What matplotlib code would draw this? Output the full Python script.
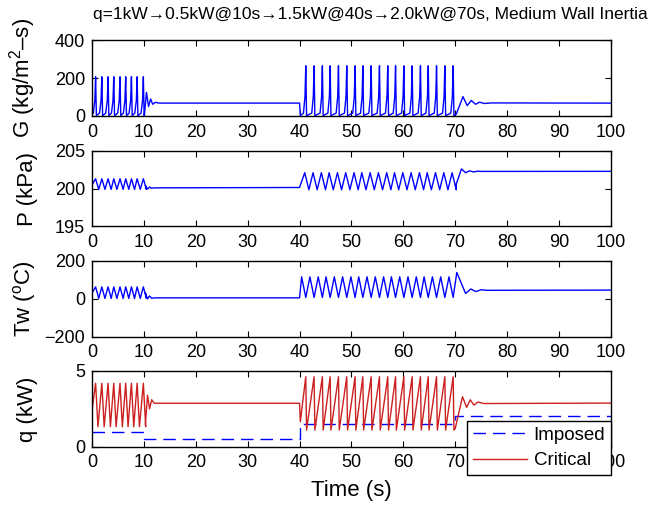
import numpy as np
import matplotlib
matplotlib.use("Agg")
import matplotlib.pyplot as plt

plt.rcParams['font.family'] = ['Liberation Sans', 'DejaVu Sans']
plt.rcParams['font.size'] = 13
plt.rcParams['mathtext.fontset'] = 'custom'
plt.rcParams['mathtext.rm'] = 'Liberation Sans'

# ---- data ----
# oscillation peak times (s)
burst1_t = [0.7, 1.9, 3.1, 4.2, 5.4, 6.5, 7.6, 8.7, 9.9]
burst2_t = [41.2, 42.8, 44.4, 45.9, 47.5, 49.1, 50.7, 52.2, 53.8, 55.4,
            57.0, 58.5, 60.1, 61.7, 63.3, 64.8, 66.4, 68.0, 69.6]

# G (kg/m2-s)
G_peak = [207, 265]
G_low = [15, 15]
G_trough = [2, 2]
G_start_t, G_start = [0.0, 0.3], [40, 20]
G_after10_t = [10.1, 10.5, 10.9, 11.3, 11.7, 12.2, 13.0, 40.0, 40.15]
G_after10 = [5, 125, 50, 90, 62, 72, 68, 68, 2]
G_after70_t = [70.2, 71.5, 72.3, 73.1, 73.9, 74.7, 75.6, 77.0, 100.0]
G_after70 = [10, 102, 55, 82, 62, 73, 66, 69, 68]

# P (kPa)
P_peak = [201.3, 202.1]
P_trough = [199.9, 199.85]
P_start_t, P_start = [0.0], [200.5]
P_after10_t = [10.3, 10.7, 11.1, 11.5, 12.0, 40.0]
P_after10 = [200.4, 199.95, 200.2, 200.05, 200.1, 200.15]
P_after70_t = [70.2, 71.2, 72.0, 72.8, 73.5, 74.3, 75.0, 100.0]
P_after70 = [200.6, 202.6, 202.1, 202.35, 202.2, 202.3, 202.27, 202.28]

# Tw (degC)
T_peak = [63, 116]
T_trough = [2, 7]
T_start_t, T_start = [0.0], [30]
T_after10_t = [10.3, 10.7, 11.1, 11.5, 12.0, 40.0]
T_after10 = [30, 0, 15, 3, 5, 5]
T_after70_t = [70.3, 72.0, 73.0, 74.0, 75.0, 76.0, 100.0]
T_after70 = [139, 28, 52, 38, 48, 45, 46]

# q (kW)
qc_peak = [4.19, 4.62]
qc_trough = [1.32, 1.10]
qc_start_t, qc_start = [0.0], [2.4]
qc_after10_t = [10.3, 10.7, 11.1, 11.5, 12.0, 40.0, 40.15]
qc_after10 = [1.5, 3.4, 2.5, 3.1, 2.87, 2.87, 1.65]
qc_after70_t = [70.0, 71.4, 72.2, 72.9, 73.6, 74.4, 75.5, 100.0]
qc_after70 = [1.2, 3.3, 2.6, 3.1, 2.75, 2.95, 2.85, 2.88]
q_imposed_t = [0, 10, 40, 70, 100]
q_imposed = [1.0, 0.5, 1.5, 2.0, 2.0]


def spikes(times, peak, low, trough):
    t, v = [], []
    for tk in times:
        t += [tk - 0.45, tk - 0.15, tk, tk + 0.15]
        v += [low, low + 0.35 * (peak - low), peak, trough]
    return t, v


def zigzag(times, peak, trough):
    t, v = [], []
    half = (times[1] - times[0]) / 2
    for tk in times:
        t += [tk, tk + half]
        v += [peak, trough]
    return t, v


def sawtooth(times, peak, trough, fall):
    t, v = [], []
    for tk in times:
        t += [tk, tk + fall]
        v += [peak, trough]
    return t, v


def series(start_t, start, b1, after10_t, after10, b2, after70_t, after70):
    t = list(start_t) + b1[0] + list(after10_t) + b2[0] + list(after70_t)
    v = list(start) + b1[1] + list(after10) + b2[1] + list(after70)
    return t, v


Gt, Gv = series(G_start_t, G_start,
                spikes(burst1_t, G_peak[0], G_low[0], G_trough[0]),
                G_after10_t, G_after10,
                spikes(burst2_t, G_peak[1], G_low[1], G_trough[1]),
                G_after70_t, G_after70)
Pt, Pv = series(P_start_t, P_start,
                zigzag(burst1_t, P_peak[0], P_trough[0]),
                P_after10_t, P_after10,
                zigzag([t - 0.2 for t in burst2_t], P_peak[1], P_trough[1]),
                P_after70_t, P_after70)
Tt, Tv = series(T_start_t, T_start,
                zigzag(burst1_t, T_peak[0], T_trough[0]),
                T_after10_t, T_after10,
                zigzag([t - 0.8 for t in burst2_t], T_peak[1], T_trough[1]),
                T_after70_t, T_after70)
qt, qv = series(qc_start_t, qc_start,
                sawtooth(burst1_t, qc_peak[0], qc_trough[0], 0.45),
                qc_after10_t, qc_after10,
                sawtooth(burst2_t, qc_peak[1], qc_trough[1], 0.15),
                qc_after70_t, qc_after70)

fig = plt.figure(figsize=(6.67, 5.05), dpi=100)
left, width, height = 0.1379, 0.778, 0.15
bottoms = [0.7703, 0.5515, 0.3333, 0.1154]
axes = [fig.add_axes([left, b, width, height]) for b in bottoms]

blue = '#0000ff'
red = '#cc1f1f'
axes[0].plot(Gt, Gv, color=blue, lw=1.0)
axes[1].plot(Pt, Pv, color=blue, lw=1.0)
axes[2].plot(Tt, Tv, color=blue, lw=1.0)
axes[3].plot(q_imposed_t, q_imposed, color=blue, lw=1.0, ls=(0, (9, 5)),
             drawstyle='steps-post', label='Imposed')
axes[3].plot(qt, qv, color=red, lw=1.0, label='Critical')

ylims = [(0, 400), (195, 205), (-200, 200), (0, 5)]
yticks = [[0, 200, 400], [195, 200, 205], [-200, 0, 200], [0, 5]]
ylabels = ['G (kg/m$^2$\u2013s)', 'P (kPa)', 'Tw ($^\\mathrm{o}$C)', 'q (kW)']
for ax, yl, yt, lab in zip(axes, ylims, yticks, ylabels):
    ax.set_xlim(0, 100)
    ax.set_ylim(*yl)
    ax.set_yticks(yt)
    ax.set_xticks(np.arange(0, 101, 10))
    ax.tick_params(direction='in', top=True, right=True, length=4,
                   width=0.8, labelsize=13)
    ax.tick_params(axis='x', pad=5.5)
    ax.tick_params(axis='y', pad=5)
    for s in ax.spines.values():
        s.set_linewidth(1.0)
    ax.set_ylabel(lab, fontsize=16)
    ax.yaxis.set_label_coords(-0.104, 0.5)

axes[3].set_xlabel('Time (s)', fontsize=16, labelpad=6)
leg = axes[3].legend(loc='lower right', bbox_to_anchor=(1.0, -0.374),
                     fontsize=13.5, fancybox=False, framealpha=1,
                     edgecolor='black', borderaxespad=0, handlelength=2.9,
                     borderpad=0.3, labelspacing=0.45, handletextpad=0.35)
leg.get_frame().set_linewidth(1.0)
leg.set_zorder(10)

fig.text(0.556, 1 - 14 / 505,
         'q=1kW\u21920.5kW@10s\u21921.5kW@40s\u21922.0kW@70s, Medium Wall Inertia',
         ha='center', va='center', fontsize=12.5)

fig.savefig('out.png', dpi=100)
